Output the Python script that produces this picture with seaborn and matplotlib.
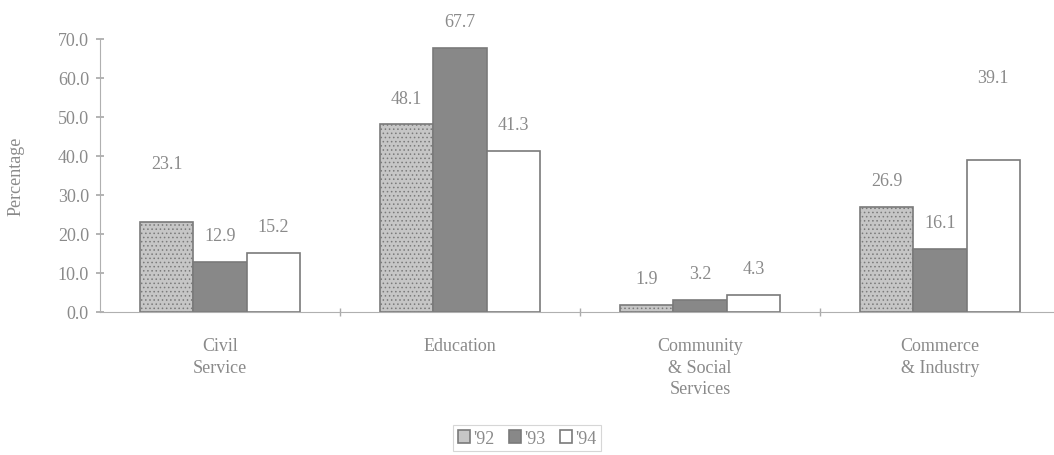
import matplotlib
matplotlib.use("Agg")
import matplotlib.pyplot as plt
import pandas as pd
import seaborn as sns

sectors = ["Civil\nService", "Education", "Community\n& Social\nServices", "Commerce\n& Industry"]
years = ["'92", "'93", "'94"]
pct_92 = [23.1, 48.1, 1.9, 26.9]
pct_93 = [12.9, 67.7, 3.2, 16.1]
pct_94 = [15.2, 41.3, 4.3, 39.1]

TEXT = "#8a8a8a"
EDGE = "#7a7a7a"
colors = ["#c6c6c6", "#888888", "#ffffff"]

# labels that sit higher than the rest in the original (extra points above default pad)
extra_pad = {(0, 0): 23, (3, 2): 40}


def main():
    df = pd.DataFrame(
        {
            "sector": sectors * 3,
            "year": [y for y in years for _ in sectors],
            "pct": pct_92 + pct_93 + pct_94,
        }
    )

    sns.set_theme(style="white")
    plt.rcParams["font.family"] = ["Liberation Serif", "DejaVu Serif"]
    plt.rcParams["hatch.color"] = "#9a9a9a"
    plt.rcParams["hatch.linewidth"] = 0.6

    fig = plt.figure(figsize=(10.54, 4.56), dpi=100)
    ax = fig.add_axes([100 / 1054, 1 - 313 / 456, 954 / 1054, 273 / 456])

    sns.barplot(
        data=df, x="sector", y="pct", hue="year", order=sectors, hue_order=years,
        palette=colors, width=0.667, edgecolor=EDGE, linewidth=1.2, ax=ax,
        legend=True,
    )

    for patch in ax.containers[0]:
        patch.set_hatch("....")

    for j, cont in enumerate(ax.containers):
        for i, patch in enumerate(cont):
            val = patch.get_height()
            pad = 19 + extra_pad.get((i, j), 0)
            ax.annotate(
                f"{val:.1f}",
                (patch.get_x() + patch.get_width() / 2, val),
                xytext=(0, pad), textcoords="offset points",
                ha="center", va="center", fontsize=13, color=TEXT,
            )

    ax.set_ylim(0, 70)
    ax.set_xlim(-0.5, 3.475)
    ax.set_yticks(range(0, 71, 10))
    ax.set_yticklabels([f"{v:.1f}" for v in range(0, 71, 10)])
    ax.set_xticks([0.5, 1.5, 2.5], minor=True)
    ax.tick_params(axis="x", which="major", length=0, pad=18, labelsize=13, labelcolor=TEXT)
    for lbl in ax.get_xticklabels():
        lbl.set_linespacing(1.35)
    ax.tick_params(axis="x", which="minor", direction="inout", length=6, color="#aaaaaa", bottom=True)
    ax.tick_params(axis="y", direction="inout", length=6, color="#aaaaaa", labelsize=13,
                   labelcolor=TEXT, left=True, pad=5)
    ax.set_xlabel("")
    ax.set_ylabel("Percentage", fontsize=13, color=TEXT, labelpad=24)

    sns.despine(ax=ax)
    for side in ["left", "bottom"]:
        ax.spines[side].set_color("#b0b0b0")
        ax.spines[side].set_linewidth(0.8)

    handles, labels = ax.get_legend_handles_labels()
    ax.get_legend().remove()
    leg = fig.legend(
        handles, labels, loc="lower center", bbox_to_anchor=(0.5, -0.012), ncol=3,
        frameon=True, fancybox=False, fontsize=13, handlelength=0.7, handleheight=0.7,
        handletextpad=0.15, columnspacing=0.8, borderpad=0.25, labelcolor=TEXT,
    )
    leg.get_frame().set_edgecolor("#cccccc")
    leg.get_frame().set_linewidth(0.8)

    fig.savefig("out.png", dpi=100)
    plt.close(fig)


if __name__ == "__main__":
    main()
